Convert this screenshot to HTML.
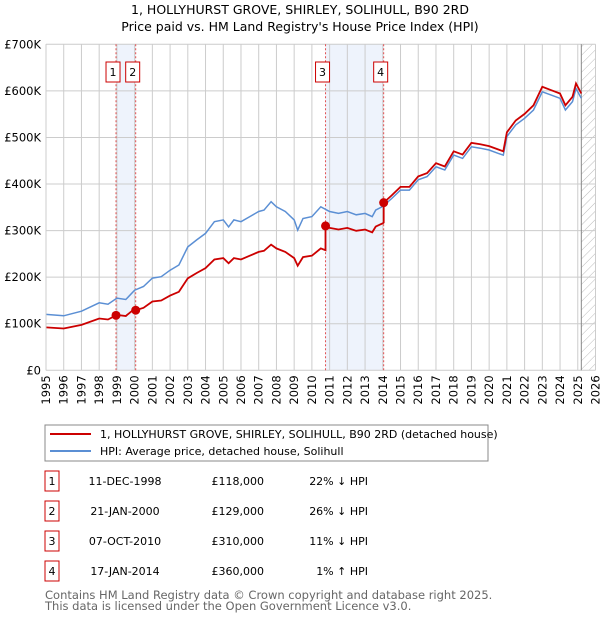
<!DOCTYPE html>
<html><head><meta charset="utf-8">
<style>
body{margin:0;background:#fff;font-family:"DejaVu Sans","Liberation Sans",sans-serif;}
svg text{font-family:"DejaVu Sans","Liberation Sans",sans-serif;}
</style></head>
<body>
<svg id="chart" width="600" height="620" xmlns="http://www.w3.org/2000/svg">
<defs>
<pattern id="hatch" width="6" height="6" patternUnits="userSpaceOnUse" patternTransform="rotate(45)">
<line x1="0" y1="0" x2="0" y2="6" stroke="#bbb" stroke-width="1"/></pattern>
</defs>
<text x="300" y="14" text-anchor="middle" font-size="12.5">1, HOLLYHURST GROVE, SHIRLEY, SOLIHULL, B90 2RD</text>
<text x="300" y="31" text-anchor="middle" font-size="12.5">Price paid vs. HM Land Registry's House Price Index (HPI)</text>
<g id="plot"></g>
<g>
<rect x="45" y="425" width="443" height="36" fill="#fff" stroke="#888"/>
<line x1="50" y1="434" x2="91" y2="434" stroke="#cc0000" stroke-width="2"/>
<text x="100" y="438" font-size="11">1, HOLLYHURST GROVE, SHIRLEY, SOLIHULL, B90 2RD (detached house)</text>
<line x1="50" y1="451" x2="91" y2="451" stroke="#5b8fd4" stroke-width="2"/>
<text x="100" y="455" font-size="11">HPI: Average price, detached house, Solihull</text>
</g>
<g id="table" font-size="11"></g>
<text x="45" y="599" font-size="11.5" fill="#666">Contains HM Land Registry data © Crown copyright and database right 2025.</text>
<text x="45" y="610" font-size="11.5" fill="#666">This data is licensed under the Open Government Licence v3.0.</text>
</svg>
<script>
const hpiYears=[1995,1996,1997,1998,1998.5,1999,1999.5,2000,2000.5,2001,2001.5,2002,2002.5,2003,2003.5,2004,2004.5,2005,2005.3,2005.6,2006,2006.5,2007,2007.3,2007.7,2008,2008.5,2009,2009.2,2009.5,2010,2010.5,2011,2011.5,2012,2012.5,2013,2013.4,2013.6,2014,2014.5,2015,2015.5,2016,2016.5,2017,2017.5,2018,2018.5,2019,2019.5,2020,2020.5,2020.8,2021,2021.5,2022,2022.5,2023,2023.5,2024,2024.3,2024.7,2024.9,2025.2];
const hpiValues=[120,117,127,145,142,155,152,172,180,198,201,215,226,265,280,294,319,323,308,323,319,330,341,344,362,351,341,323,301,326,330,351,341,337,341,334,337,330,344,352,369,387,387,409,416,437,430,462,455,480,477,473,466,462,502,527,541,559,598,591,584,559,577,605,584];
const saleDates=[1998.95,2000.06,2010.77,2014.05];
const salePrices=[118,129,310,360];
const saleLabels=["11-DEC-1998","21-JAN-2000","07-OCT-2010","17-JAN-2014"];
const salePriceText=["£118,000","£129,000","£310,000","£360,000"];
const saleHpiText=["22% ↓ HPI","26% ↓ HPI","11% ↓ HPI","1% ↑ HPI"];
const yTicks=[0,100,200,300,400,500,600,700];
const yTickLabels=["£0","£100K","£200K","£300K","£400K","£500K","£600K","£700K"];

const NS="http://www.w3.org/2000/svg";
const X0=46,X1=595.5,Y0=370.3,Y1=44.3;
const xs=t=>X0+(t-1995)/31*(X1-X0);
const ys=v=>Y0-v/700*(Y0-Y1);
const plot=document.getElementById('plot');
function mk(tag,attrs,parent){const e=document.createElementNS(NS,tag);for(const k in attrs)e.setAttribute(k,attrs[k]);(parent||plot).appendChild(e);return e;}
function hpiAt(t){for(let i=0;i<hpiYears.length-1;i++){if(t<=hpiYears[i+1]){const f=(t-hpiYears[i])/(hpiYears[i+1]-hpiYears[i]);return hpiValues[i]+f*(hpiValues[i+1]-hpiValues[i]);}}return hpiValues[hpiValues.length-1];}

for(const [a,b] of [[0,1],[2,3]]){
const r=mk('rect',{x:xs(saleDates[a]),y:Y1,width:xs(saleDates[b])-xs(saleDates[a]),height:Y0-Y1,fill:'#eef3fc'});


}
const h=mk('rect',{x:xs(2025.2),y:Y1,width:X1-xs(2025.2),height:Y0-Y1,fill:'url(#hatch)'});


for(let yr=1995;yr<=2026;yr++){
const l=mk('line',{x1:xs(yr),x2:xs(yr),y1:Y1,y2:Y0,stroke:'#ccc','stroke-width':1});


const t=mk('text',{transform:`translate(${xs(yr)+4},${Y0+5}) rotate(-90)`,'text-anchor':'end','font-size':'11.5'});
t.textContent=yr;


}
yTicks.forEach((v,i)=>{
const l=mk('line',{x1:X0,x2:X1,y1:ys(v),y2:ys(v),stroke:'#ccc','stroke-width':1});


const t=mk('text',{x:X0-5,y:ys(v)+4,'text-anchor':'end','font-size':'11.5'});
t.textContent=yTickLabels[i];


});
mk('line',{x1:xs(2025.2),x2:xs(2025.2),y1:Y1,y2:Y0,stroke:'#888','stroke-width':1});
saleDates.forEach((d,i)=>{
const l=mk('line',{x1:xs(d),x2:xs(d),y1:Y1,y2:Y0,stroke:'#e05050','stroke-width':1,'stroke-dasharray':'2,2'});


const b=mk('rect',{x:xs(d)-10,y:62,width:14,height:20,fill:'#fff',stroke:'#cc0000'});


const t=mk('text',{x:xs(d)-3,y:76,'text-anchor':'middle','font-size':'11'});
t.textContent=i+1;
});
let pts=hpiYears.map((t,i)=>xs(t).toFixed(1)+','+ys(hpiValues[i]).toFixed(1)).join(' ');
const hl=mk('polyline',{points:pts,fill:'none',stroke:'#5b8fd4','stroke-width':1.5});


const rp=[];
const firstF=salePrices[0]/hpiAt(saleDates[0]);
function factorAt(t){let f=firstF;for(let i=0;i<saleDates.length;i++){if(t>=saleDates[i])f=salePrices[i]/hpiAt(saleDates[i]);}return f;}
const times=[...hpiYears,...saleDates,...saleDates.map(d=>d-0.001)].sort((a,b)=>a-b);
times.forEach(t=>{rp.push(xs(t).toFixed(1)+','+ys(hpiAt(t)*factorAt(t)).toFixed(1));});
const pl=mk('polyline',{points:rp.join(' '),fill:'none',stroke:'#cc0000','stroke-width':1.8});


saleDates.forEach((d,i)=>{
const c=mk('circle',{cx:xs(d),cy:ys(salePrices[i]),r:4.5,fill:'#cc0000'});


});
mk('line',{x1:X0,x2:X0,y1:Y1,y2:Y0,stroke:'#ccc'});
const tb=document.getElementById('table');
saleDates.forEach((d,i)=>{
const y=483+i*30;
const b=mk('rect',{x:45,y:y-12,width:14,height:20,fill:'none',stroke:'#cc0000'},tb);


const n=mk('text',{x:52,y:y+2,'text-anchor':'middle'},tb);n.textContent=i+1;
const t1=mk('text',{x:125,y:y+2,'text-anchor':'middle'},tb);t1.textContent=saleLabels[i];


const t2=mk('text',{x:264,y:y+2,'text-anchor':'end'},tb);t2.textContent=salePriceText[i];


const t3=mk('text',{x:368,y:y+2,'text-anchor':'end'},tb);t3.textContent=saleHpiText[i];


});
</script>
</body></html>
